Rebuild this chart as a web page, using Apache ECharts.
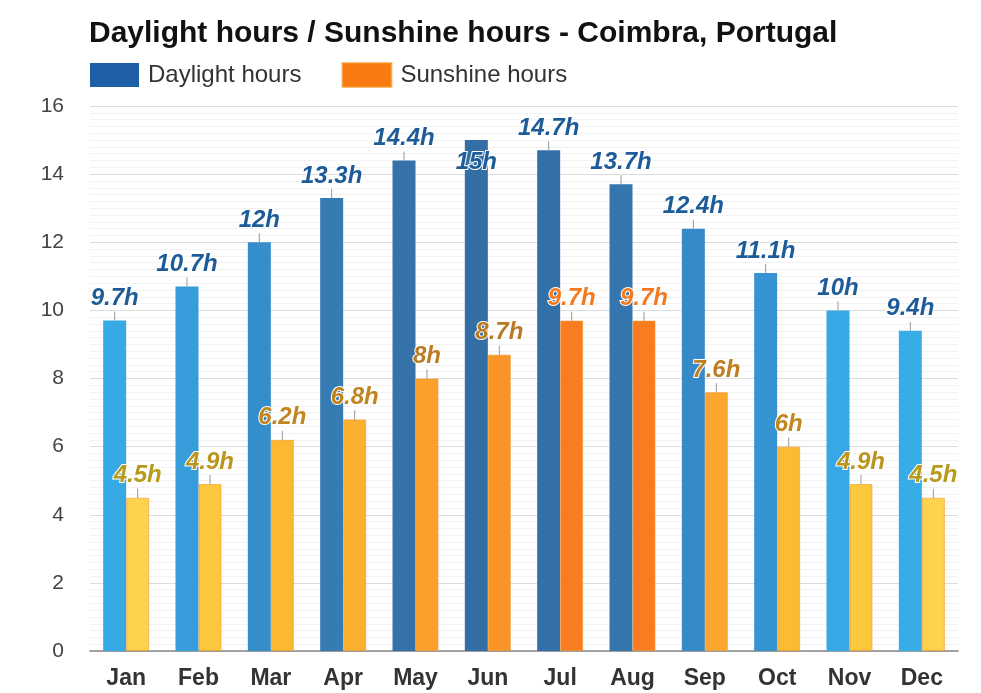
<!DOCTYPE html>
<html>
<head>
<meta charset="utf-8">
<script src="https://cdn.jsdelivr.net/npm/echarts@6/dist/echarts.min.js"></script>
<style>
html,body{margin:0;padding:0;background:#fff;}
#chart{width:981px;height:693px;}
</style>
</head>
<body>
<div id="chart"></div>
<script>
const months = ['Jan','Feb','Mar','Apr','May','Jun','Jul','Aug','Sep','Oct','Nov','Dec'];
const daylight = [9.7,10.7,12,13.3,14.4,15,14.7,13.7,12.4,11.1,10,9.4];
const sunshine = [4.5,4.9,6.2,6.8,8,8.7,9.7,9.7,7.6,6,4.9,4.5];
const yMin = 0, yMax = 16, yStep = 2;

// style: colour stops by value
const dayStops = [[9.0,'#38aee9'],[10.3,'#37a6e4'],[11,'#3595d2'],[12.5,'#3589c6'],[13.5,'#3577b0'],[15,'#336ea5']];
const sunStops = [[4.5,'#fdd34c'],[4.9,'#fcc83c'],[6.2,'#fbb932'],[7.6,'#fba62e'],[8.7,'#f99527'],[9.7,'#f97d20']];
const sunLabelStops = [[4.5,'#b89a1c'],[6.2,'#c3861f'],[8.7,'#b87a25'],[9.3,'#e07a22'],[9.7,'#f47a20']];

function hex2rgb(h){return [parseInt(h.substr(1,2),16),parseInt(h.substr(3,2),16),parseInt(h.substr(5,2),16)];}
function lerpColor(stops,v){
  if(v<=stops[0][0]) return stops[0][1];
  for(let i=1;i<stops.length;i++){
    if(v<=stops[i][0]){
      const t=(v-stops[i-1][0])/(stops[i][0]-stops[i-1][0]);
      const a=hex2rgb(stops[i-1][1]), b=hex2rgb(stops[i][1]);
      return 'rgb('+a.map((x,k)=>Math.round(x+(b[k]-x)*t)).join(',')+')';
    }
  }
  return stops[stops.length-1][1];
}
const overflow = v => v > yMax - 1.2;
const FF = '"Liberation Sans", Arial, sans-serif';

const labelFont = {fontFamily:FF, fontWeight:'bold', fontStyle:'italic', fontSize:24, textBorderColor:'#fff', textBorderWidth:2};

const dayData = daylight.map(v => ({
  value: v,
  itemStyle: {color: lerpColor(dayStops, v)},
  label: overflow(v) ? {position:'insideTop', distance:10} : {}
}));
const sunData = sunshine.map(v => ({
  value: v,
  itemStyle: {color: lerpColor(sunStops, v)},
  label: {color: lerpColor(sunLabelStops, v)}
}));

const chart = echarts.init(document.getElementById('chart'), null, {renderer:'canvas'});
chart.setOption({
  animation:false,
  backgroundColor:'#fff',
  title:{
    text:'Daylight hours / Sunshine hours - Coimbra, Portugal',
    left:89, top:19, padding:0,
    textStyle:{fontFamily:FF, fontWeight:'bold', fontSize:30, color:'#111'}
  },
  legend:{
    left:90, top:62, padding:0, itemWidth:49, itemHeight:24, itemGap:40,
    icon:'rect',
    textStyle:{fontFamily:FF, fontSize:24, color:'#333', padding:[0,0,0,4]},
    data:[{name:'Daylight hours', itemStyle:{color:'#1f5fa6'}},{name:'Sunshine hours', itemStyle:{color:'#f97a10'}}]
  },
  grid:{left:90, right:23, top:106, bottom:42, containLabel:false},
  xAxis:{
    type:'category', data:months,
    axisLine:{lineStyle:{color:'#888', width:1.5}},
    axisTick:{show:false},
    axisLabel:{fontFamily:FF, fontWeight:'bold', fontSize:23, color:'#333', margin:16}
  },
  yAxis:{
    type:'value', min:yMin, max:yMax, interval:yStep,
    axisLine:{show:false}, axisTick:{show:false},
    axisLabel:{fontFamily:FF, fontSize:21, color:'#444', margin:26},
    splitLine:{lineStyle:{color:'#dcdcdc', width:1}},
    minorTick:{show:false, splitNumber:10},
    minorSplitLine:{show:true, lineStyle:{color:'#f2f2f2', width:1}}
  },
  series:[
    {
      name:'Daylight hours', type:'bar', data:dayData,
      barWidth:23, barGap:'0%',
      label:Object.assign({show:true, position:'top', distance:0, color:'#1d5c99', formatter:p=>p.value+'h'}, labelFont),
      labelLayout:p => overflow(daylight[p.dataIndex]) ? {} : {dy:-10},
      labelLine:{show:true, lineStyle:{color:'#999', width:1}}
    },
    {
      name:'Sunshine hours', type:'bar', data:sunData,
      barWidth:23,
      itemStyle:{borderColor:'rgba(245,150,40,0.6)', borderWidth:1},
      label:Object.assign({show:true, position:'top', distance:0, formatter:p=>p.value+'h'}, labelFont),
      labelLayout:{dy:-10},
      labelLine:{show:true, lineStyle:{color:'#999', width:1}}
    }
  ]
});
</script>
</body>
</html>
